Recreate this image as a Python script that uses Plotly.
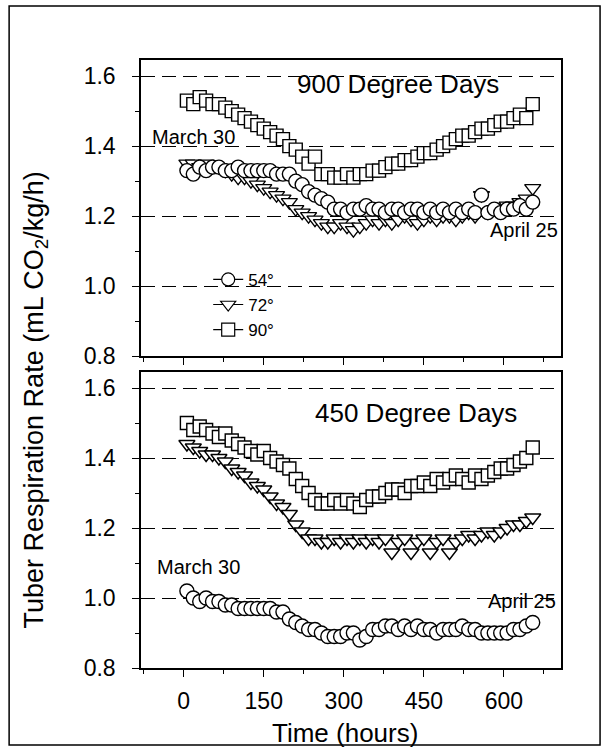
import plotly.graph_objects as go
from plotly.subplots import make_subplots

# Time (hours)
hours = [6, 18, 30, 42, 54, 66, 78, 90, 102, 114, 126, 138, 150, 162, 174, 186, 198,
         210, 222, 234, 246, 258, 270, 282, 294, 306, 318, 330, 342, 354, 366, 378,
         390, 402, 414, 426, 438, 450, 462, 474, 486, 498, 510, 522, 534, 546, 558,
         570, 582, 594, 606, 618, 630, 642, 654]

# 900 degree days panel
dd900_54 = [1.33, 1.32, 1.34, 1.33, 1.34, 1.34, 1.33, 1.33, 1.34, 1.33, 1.33, 1.33, 1.33, 1.33,
            1.32, 1.32, 1.32, 1.30, 1.29, 1.27, 1.26, 1.25, 1.24, 1.22, 1.22, 1.21, 1.22, 1.22,
            1.23, 1.22, 1.22, 1.21, 1.22, 1.22, 1.21, 1.22, 1.22, 1.21, 1.22, 1.21, 1.22, 1.21,
            1.22, 1.21, 1.22, 1.21, 1.26, 1.21, 1.22, 1.21, 1.22, 1.22, 1.23, 1.22, 1.24]
dd900_72 = [1.35, 1.35, 1.34, 1.35, 1.34, 1.34, 1.33, 1.32, 1.31, 1.31, 1.30, 1.29, 1.28, 1.27,
            1.26, 1.25, 1.24, 1.22, 1.21, 1.20, 1.19, 1.18, 1.17, 1.17, 1.18, 1.17, 1.16, 1.17,
            1.18, 1.19, 1.18, 1.19, 1.18, 1.19, 1.20, 1.19, 1.18, 1.19, 1.20, 1.19, 1.20, 1.20,
            1.19, 1.20, 1.21, 1.20, 1.26, 1.21, 1.22, 1.22, 1.23, 1.23, 1.24, 1.25, 1.28]
dd900_90 = [1.53, 1.52, 1.54, 1.53, 1.52, 1.52, 1.51, 1.50, 1.49, 1.48, 1.47, 1.46, 1.45, 1.44,
            1.43, 1.42, 1.40, 1.39, 1.37, 1.35, 1.37, 1.32, 1.32, 1.31, 1.31, 1.32, 1.31, 1.32,
            1.32, 1.33, 1.33, 1.34, 1.35, 1.35, 1.36, 1.36, 1.37, 1.38, 1.38, 1.39, 1.40, 1.41,
            1.42, 1.43, 1.43, 1.44, 1.45, 1.45, 1.46, 1.47, 1.47, 1.48, 1.49, 1.48, 1.52]

# 450 degree days panel
dd450_54 = [1.02, 1.00, 0.99, 1.00, 0.99, 0.99, 0.98, 0.98, 0.97, 0.97, 0.97, 0.97, 0.97, 0.97,
            0.96, 0.96, 0.94, 0.93, 0.92, 0.91, 0.91, 0.90, 0.89, 0.89, 0.89, 0.90, 0.90, 0.88,
            0.89, 0.91, 0.91, 0.92, 0.92, 0.91, 0.92, 0.91, 0.92, 0.91, 0.91, 0.90, 0.91, 0.91,
            0.91, 0.92, 0.91, 0.91, 0.90, 0.90, 0.90, 0.90, 0.90, 0.91, 0.91, 0.92, 0.93]
dd450_72 = [1.44, 1.43, 1.42, 1.41, 1.41, 1.40, 1.39, 1.37, 1.36, 1.35, 1.33, 1.32, 1.31, 1.29,
            1.27, 1.26, 1.24, 1.21, 1.19, 1.17, 1.17, 1.16, 1.16, 1.17, 1.16, 1.17, 1.16, 1.17,
            1.16, 1.17, 1.16, 1.17, 1.13, 1.16, 1.17, 1.13, 1.16, 1.17, 1.13, 1.16, 1.17, 1.13,
            1.16, 1.17, 1.18, 1.17, 1.18, 1.19, 1.18, 1.19, 1.20, 1.21, 1.21, 1.22, 1.23]
dd450_90 = [1.50, 1.48, 1.49, 1.48, 1.47, 1.46, 1.47, 1.45, 1.44, 1.43, 1.42, 1.41, 1.42, 1.40,
            1.39, 1.38, 1.37, 1.34, 1.32, 1.30, 1.28, 1.27, 1.27, 1.28, 1.27, 1.28, 1.27, 1.26,
            1.28, 1.29, 1.29, 1.30, 1.31, 1.31, 1.30, 1.32, 1.32, 1.33, 1.32, 1.34, 1.33, 1.34,
            1.35, 1.34, 1.33, 1.35, 1.34, 1.35, 1.36, 1.37, 1.37, 1.38, 1.39, 1.40, 1.43]

series_names = ["54°", "72°", "90°"]
series_symbols = ["circle", "triangle-down", "square"]

x_ticks = [0, 150, 300, 450, 600]
y_ticks = [0.8, 1.0, 1.2, 1.4, 1.6]

FONT = "Arial, Liberation Sans, sans-serif"

fig = make_subplots(rows=2, cols=1, shared_xaxes=False, vertical_spacing=0.026)

panels = [(1, [dd900_54, dd900_72, dd900_90]), (2, [dd450_54, dd450_72, dd450_90])]
draw_order = [1, 0, 2]
for row, data in panels:
    for i in draw_order:
        fig.add_trace(go.Scatter(
            x=hours, y=data[i], mode="markers", showlegend=False,
            marker=dict(symbol=series_symbols[i], size=14 if i != 2 else 13, color="white",
                        line=dict(color="black", width=1.4)),
        ), row=row, col=1)

# legend entries
for i in range(3):
    fig.add_trace(go.Scatter(
        x=[None], y=[None], mode="lines+markers", name=series_names[i],
        line=dict(color="black", width=1.2),
        marker=dict(symbol=series_symbols[i], size=13, color="white",
                    line=dict(color="black", width=1.2)),
    ), row=1, col=1)

axis_common = dict(
    showline=True, linecolor="black", linewidth=1.5, mirror=True,
    ticks="outside", ticklen=7, tickwidth=1.3, tickcolor="black",
    zeroline=False,
)
for r in (1, 2):
    fig.update_xaxes(
        range=[-80, 707], tickvals=x_ticks, showticklabels=(r == 2),
        showgrid=False, ticklabelstandoff=5,
        minor=dict(dtick=75, tick0=0, ticks="outside", ticklen=4, tickcolor="black", showgrid=False),
        tickfont=dict(family=FONT, size=23, color="black"),
        row=r, col=1, **axis_common)
    fig.update_yaxes(
        range=[0.8, 1.646], tickvals=y_ticks, ticktext=["0.8", "1.0", "1.2", "1.4", "1.6"],
        showgrid=True, gridcolor="black", gridwidth=1, griddash="14px,7px",
        ticklabelstandoff=12,
        minor=dict(dtick=0.1, tick0=0.8, ticks="outside", ticklen=4, tickcolor="black", showgrid=False),
        tickfont=dict(family=FONT, size=23, color="black"),
        row=r, col=1, **axis_common)

ann = []
def add_text(text, x, y, size, xanchor="center"):
    ann.append(dict(text=text, x=x, y=y, xref="paper", yref="paper", showarrow=False,
                    xanchor=xanchor, yanchor="middle",
                    font=dict(family=FONT, size=size, color="black")))

add_text("900 Degree Days", 0.612, 0.9605, 26)
add_text("450 Degree Days", 0.655, 0.419, 26)
add_text("March 30", 0.126, 0.873, 20)
add_text("April 25", 0.912, 0.720, 20)
add_text("March 30", 0.136, 0.166, 20)
add_text("April 25", 0.907, 0.110, 20)
add_text("Time (hours)", 0.486, -0.107, 26)
ann.append(dict(text="Tuber Respiration Rate (mL CO<sub>2</sub>/kg/h)", x=-0.25, y=0.44,
                xref="paper", yref="paper", showarrow=False, textangle=-90,
                xanchor="center", yanchor="middle",
                font=dict(family=FONT, size=27, color="black")))

fig.update_layout(
    width=604, height=749,
    margin=dict(l=141, r=43, t=60, b=81),
    paper_bgcolor="white", plot_bgcolor="white",
    annotations=ann,
    showlegend=True,
    legend=dict(x=0.16, y=0.668, xanchor="left", yanchor="top", bgcolor="rgba(0,0,0,0)",
                font=dict(family=FONT, size=17, color="black"), itemwidth=30,
                tracegroupgap=0),
    shapes=[dict(type="rect", xref="paper", yref="paper", x0=-0.314, x1=1.093,
                 y0=-0.1266, y1=1.089, line=dict(color="black", width=1.5))],
)

# remove the browser's default 8px body margin so the 604x749 figure fills the window
fig.write_html("out.html", config={"displayModeBar": False},
               post_script="document.body.style.margin='0';")
